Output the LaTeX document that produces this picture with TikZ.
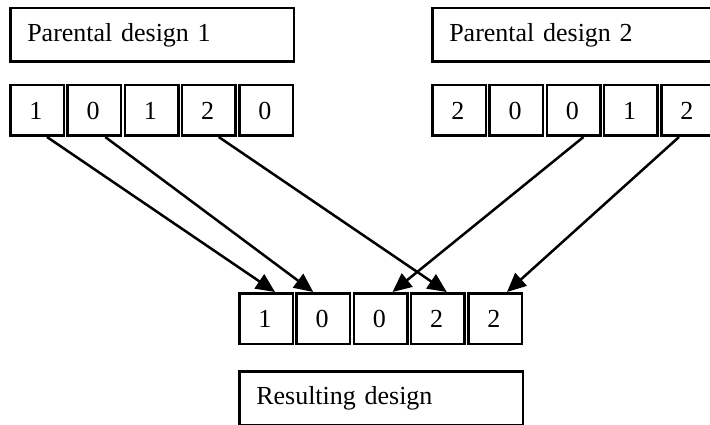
\documentclass[tikz,border=0pt]{standalone}
\usepackage{fontspec}
\setmainfont{Liberation Serif}
\usetikzlibrary{arrows.meta,positioning}

\tikzset{
  namebox/.style={draw, line width=2.5pt, minimum height=53.5pt, text width=249.5pt,
    inner xsep=17pt, align=left, anchor=north west},
  cell/.style={draw, line width=2.5pt, minimum height=50.5pt, text width=15.5pt,
    inner xsep=19pt, align=left, anchor=north west},
  pass/.style={line width=2.5pt, -{Triangle[length=19pt,width=17pt]}}
}

\begin{document}
\begin{tikzpicture}[x=1pt,y=-1pt,font=\fontsize{26}{30}\selectfont]
  \useasboundingbox (0,0) rectangle (710,425);

  % parents
  \node[namebox] (p1) at (9,7) {Parental design 1};
  \node[namebox] (p2) at (431,7) {Parental design 2};
  \foreach \d [count=\i] in {1,0,1,2,0}
    \node[cell] (a\i) at ({9+57.25*(\i-1)},84) {\d};
  \foreach \d [count=\i] in {2,0,0,1,2}
    \node[cell] (b\i) at ({431+57.25*(\i-1)},84) {\d};

  % child
  \foreach \d [count=\i] in {1,0,0,2,2}
    \node[cell] (c\i) at ({238+57.25*(\i-1)},292) {\d};
  \node[namebox] (res) at (238,370) {Resulting design};

  \draw[pass] ([xshift=10pt]a1.south) -- ([xshift=9pt]c1.north);
  \draw[pass] ([xshift=11pt]a2.south) -- ([xshift=-10pt]c2.north);
  \draw[pass] ([xshift=10pt]a4.south) -- ([xshift=9pt]c4.north);
  \draw[pass] ([xshift=10pt]b3.south) -- ([xshift=12pt]c3.north);
  \draw[pass] ([xshift=-9pt]b5.south) -- ([xshift=12pt]c5.north);
\end{tikzpicture}
\end{document}
